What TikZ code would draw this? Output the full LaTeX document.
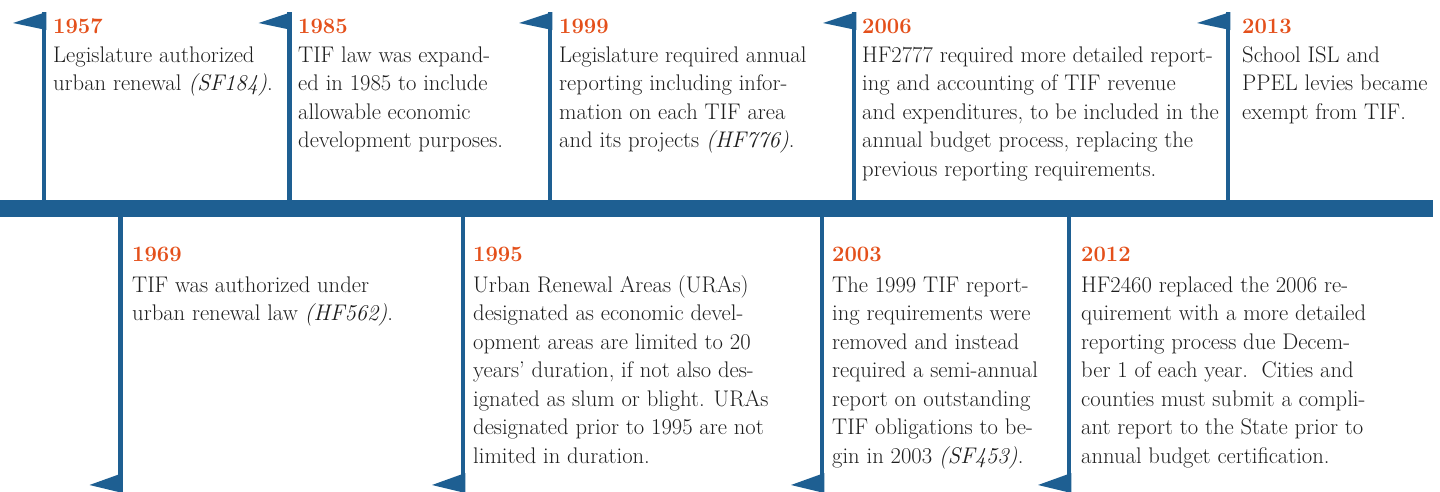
\documentclass[tikz,border=0pt]{standalone}
\definecolor{tlblue}{HTML}{1E5F92}
\definecolor{tlorange}{HTML}{E4501B}
\definecolor{tltext}{HTML}{1E1E1E}
\newcommand{\evtext}[1]{\parbox[t]{420pt}{\raggedright #1}}
\begin{document}
\begin{tikzpicture}[x=1pt,y=-1pt,
  pole/.style={draw=tlblue, line width=4.6pt},
  flagshape/.style={fill=tlblue},
  barshape/.style={fill=tlblue},
  yearlbl/.style={anchor=base west, inner sep=0pt, text=tlorange, font=\fontsize{22}{28}\selectfont\bfseries},
  bodytxt/.style={anchor=base west, inner sep=0pt, text=tltext, font=\fontsize{22.6}{28.5}\selectfont}]
\useasboundingbox (0,0) rectangle (1440,491);

% main bar
\fill[barshape] (0,200) rectangle (1433,217);

% upper poles with flags
\foreach \px/\nm in {44/a, 289.5/b, 550/c, 854/d, 1228/e}{
  \coordinate (top\nm) at (\px,12);
  \coordinate (foot\nm) at (\px,201);
  \draw[pole] (top\nm) -- (foot\nm);
  \fill[flagshape] (\px+2.3,12) -- (\px-31,23) -- (\px+2.3,30) -- cycle;
}
% lower poles with flags
\foreach \px/\nm in {120.5/f, 463/g, 822/h, 1069/i}{
  \coordinate (head\nm) at (\px,216);
  \coordinate (bot\nm) at (\px,492);
  \draw[pole] (head\nm) -- (bot\nm);
  \fill[flagshape] (\px+2.3,473) -- (\px-31,485) -- (\px+2.3,493) -- cycle;
}

% upper events
\node[yearlbl] (y1957) at (53,33) {1957};
\node[bodytxt] (t1957) at (53,62) {\evtext{Legislature authorized\\urban renewal \textit{(SF184)}.}};

\node[yearlbl] (y1985) at (298,33) {1985};
\node[bodytxt] (t1985) at (298,62) {\evtext{TIF law was expand-\\ed in 1985 to include\\allowable economic\\development purposes.}};

\node[yearlbl] (y1999) at (559,33) {1999};
\node[bodytxt] (t1999) at (559,62) {\evtext{Legislature required annual\\reporting including infor-\\mation on each TIF area\\and its projects \textit{(HF776)}.}};

\node[yearlbl] (y2006) at (862,33) {2006};
\node[bodytxt] (t2006) at (862,62) {\evtext{HF2777 required more detailed report-\\ing and accounting of TIF revenue\\and expenditures, to be included in the\\annual budget process, replacing the\\previous reporting requirements.}};

\node[yearlbl] (y2013) at (1242,33) {2013};
\node[bodytxt] (t2013) at (1242,62) {\evtext{School ISL and\\PPEL levies became\\exempt from TIF.}};

% lower events
\node[yearlbl] (y1969) at (132,261) {1969};
\node[bodytxt] (t1969) at (132,292) {\evtext{TIF was authorized under\\urban renewal law \textit{(HF562)}.}};

\node[yearlbl] (y1995) at (473,261) {1995};
\node[bodytxt] (t1995) at (473,292) {\evtext{Urban Renewal Areas (URAs)\\designated as economic devel-\\opment areas are limited to 20\\years' duration, if not also des-\\ignated as slum or blight. URAs\\designated prior to 1995 are not\\limited in duration.}};

\node[yearlbl] (y2003) at (832,261) {2003};
\node[bodytxt] (t2003) at (832,292) {\evtext{The 1999 TIF report-\\ing requirements were\\removed and instead\\required a semi-annual\\report on outstanding\\TIF obligations to be-\\gin in 2003 \textit{(SF453)}.}};

\node[yearlbl] (y2012) at (1081,261) {2012};
\node[bodytxt] (t2012) at (1081,292) {\evtext{HF2460 replaced the 2006 re-\\quirement with a more detailed\\reporting process due Decem-\\ber 1 of each year.\hspace{0.2em} Cities and\\counties must submit a compli-\\ant report to the State prior to\\annual budget certification.}};
\end{tikzpicture}
\end{document}
